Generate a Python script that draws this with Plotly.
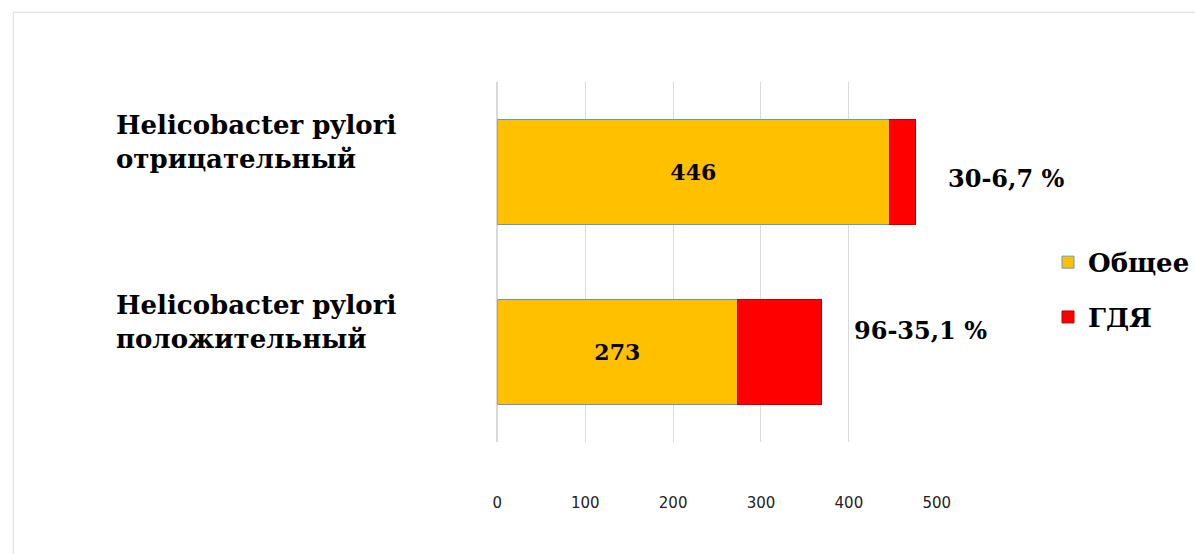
import plotly.graph_objects as go

categories = ["Helicobacter pylori<br>отрицательный", "Helicobacter pylori<br>положительный"]
total_vals = [446, 273]
gdya_vals = [30, 96]
gdya_pct = ["6,7", "35,1"]
tick_vals = [0, 100, 200, 300, 400, 500]
series_names = ["Общее", "ГДЯ"]

serif = "DejaVu Serif, Liberation Serif, serif"
label_yshift = [-6, 22]

fig = go.Figure()
fig.add_trace(go.Bar(
    y=categories, x=total_vals, orientation="h", name="<b>" + series_names[0] + "</b>",
    marker=dict(color="#FFC000", line=dict(color="#5B9BD5", width=1)),
    text=["<b>" + str(v) + "</b>" for v in total_vals], textposition="inside",
    insidetextanchor="middle",
    textfont=dict(family=serif, size=22, color="black"),
    width=0.58, legendgroup="a",
))
fig.add_trace(go.Bar(
    y=categories, x=gdya_vals, orientation="h", name="<b>" + series_names[1] + "</b>",
    marker=dict(color="#FF0000", line=dict(color="#C00000", width=1)),
    width=0.58, legendgroup="b",
))

fig.update_layout(
    width=1195, height=554, barmode="stack",
    margin=dict(l=0, r=0, t=0, b=0),
    paper_bgcolor="white", plot_bgcolor="white",
    font=dict(family=serif, color="black"),
    showlegend=True,
    legend=dict(x=0.888, y=0.477, xanchor="left", yanchor="middle",
                font=dict(family=serif, size=26, color="black"),
                traceorder="grouped", tracegroupgap=18, itemwidth=30),
    shapes=[dict(type="rect", xref="paper", yref="paper", x0=0.007, x1=1.02, y0=-0.02, y1=0.978,
                 line=dict(color="#D9D9D9", width=1))],
)
fig.update_xaxes(domain=[0.419, 0.793], range=[0, 500], tickvals=tick_vals,
                 showgrid=True, gridcolor="#D9D9D9", zeroline=True, zerolinecolor="#D9D9D9",
                 showline=False, ticks="", ticklabelstandoff=50,
                 tickfont=dict(family="DejaVu Sans, Arial, sans-serif", size=15, color="#222"))
fig.update_yaxes(domain=[0.202, 0.852], categoryorder="array", categoryarray=categories,
                 autorange="reversed", showticklabels=False, showgrid=False, zeroline=False)

for cat in categories:
    fig.add_annotation(x=0.093, xref="paper", y=cat, yref="y", text="<b>" + cat + "</b>",
                       showarrow=False, xanchor="left", yanchor="middle", align="left",
                       yshift=30, font=dict(family=serif, size=26, color="black"))

for cat, t, g, p, ys in zip(categories, total_vals, gdya_vals, gdya_pct, label_yshift):
    fig.add_annotation(x=t + g, xref="x", y=cat, yref="y", text=f"<b>{g}-{p} %</b>",
                       showarrow=False, xanchor="left", yanchor="middle", xshift=30, yshift=ys,
                       font=dict(family=serif, size=24, color="black"))

fig.write_html("out.html", config={"displayModeBar": False},
               post_script="document.body.style.margin='0';")
